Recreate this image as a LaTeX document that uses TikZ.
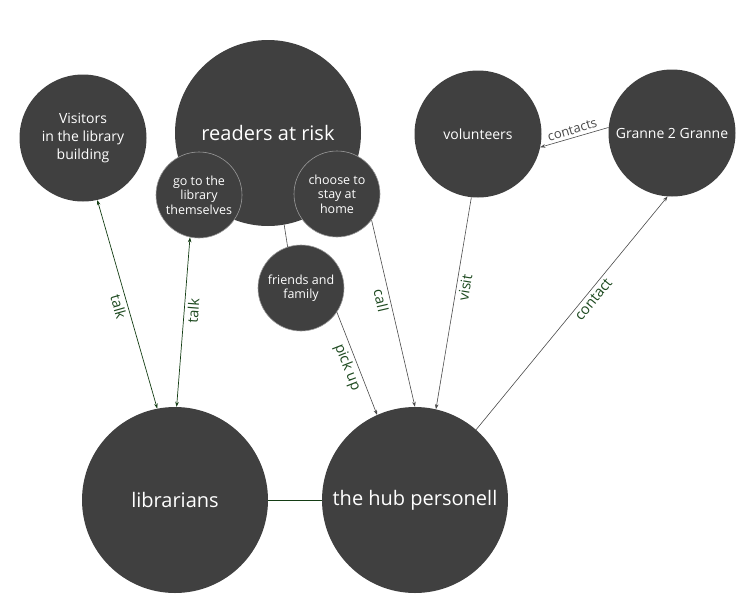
\documentclass[tikz,border=0pt]{standalone}
\usepackage{fontspec}
\setmainfont{Open Sans}
\usetikzlibrary{arrows.meta}

\definecolor{bubblegray}{HTML}{404040}
\definecolor{ringgray}{HTML}{9A9A9A}
\definecolor{talkgreen}{HTML}{143D14}
\definecolor{labelgreen}{HTML}{1E4A20}
\definecolor{linegray}{HTML}{4A4A4A}

\tikzset{
    bubble/.style={circle, fill=bubblegray, text=white, inner sep=0pt, align=center},
    bigbubble/.style={bubble, minimum size=186pt, font=\fontsize{20}{24}\selectfont},
    midbubble/.style={bubble, minimum size=127pt, font=\fontsize{14}{18}\selectfont},
    subbubble/.style={bubble, draw=ringgray, line width=0.6pt, minimum size=86pt, font=\fontsize{12.5}{14.5}\selectfont},
    talkline/.style={draw=talkgreen, line width=0.7pt},
    plainline/.style={draw=linegray, line width=0.6pt},
    edgelabel/.style={font=\fontsize{14.5}{16}\selectfont, text=labelgreen, inner sep=3pt},
    >={Stealth[length=5pt,width=3.6pt]}
}

\begin{document}
\begin{tikzpicture}[x=1pt, y=-1pt]
    \useasboundingbox (0,0) rectangle (740,606);

    % upper row
    \node [midbubble]  at ( 83, 138) (Visitors)   {Visitors\\in the library\\building};
    \node [bigbubble]  at (268, 133) (Readers)    {readers at risk};
    \node [midbubble]  at (478, 134) (Volunteers) {volunteers};
    \node [midbubble]  at (672, 133) (Granne)     {Granne 2 Granne};

    % readers split up
    \node [subbubble]  at (199, 195) (Library)    {go to the\\library\\themselves};
    \node [subbubble]  at (337, 194) (Home)       {choose to\\stay at\\home};
    \node [subbubble]  at (301, 288) (Friends)    {friends and\\family};

    % lower row
    \node [bigbubble]  at (175, 500) (Librarians) {librarians};
    \node [bigbubble]  at (415, 500) (Hub)        {the hub personell};

    \draw [plainline] (Readers.-80) -- (Friends.108);
    \draw [talkline, <->] (Visitors.-77) -- node[edgelabel, pos=0.5, sloped, below] {talk} (Librarians.101);
    \draw [talkline, <->] (Library.-102) -- node[edgelabel, pos=0.43, sloped, below] {talk} (Librarians.89);
    \draw [talkline] (Librarians.east) -- (Hub.west);

    \draw [plainline, ->] (Friends.-34) -- node[edgelabel, pos=0.5, sloped, below] {pick up} (Hub.114);
    \draw [plainline, ->] (Home.-37) -- node[edgelabel, pos=0.42, sloped, below] {call} (Hub.90);
    \draw [plainline, ->] (Volunteers.-96) -- node[edgelabel, pos=0.42, sloped, below] {visit} (Hub.77);
    \draw [plainline, ->] (Hub.49) -- node[edgelabel, pos=0.58, sloped, below] {contact} (Granne.-94);
    \draw [plainline, ->] (Granne.175) -- node[edgelabel, font=\fontsize{13}{15}\selectfont, text=linegray, pos=0.5, sloped, above] {contacts} (Volunteers.-12);
\end{tikzpicture}
\end{document}
